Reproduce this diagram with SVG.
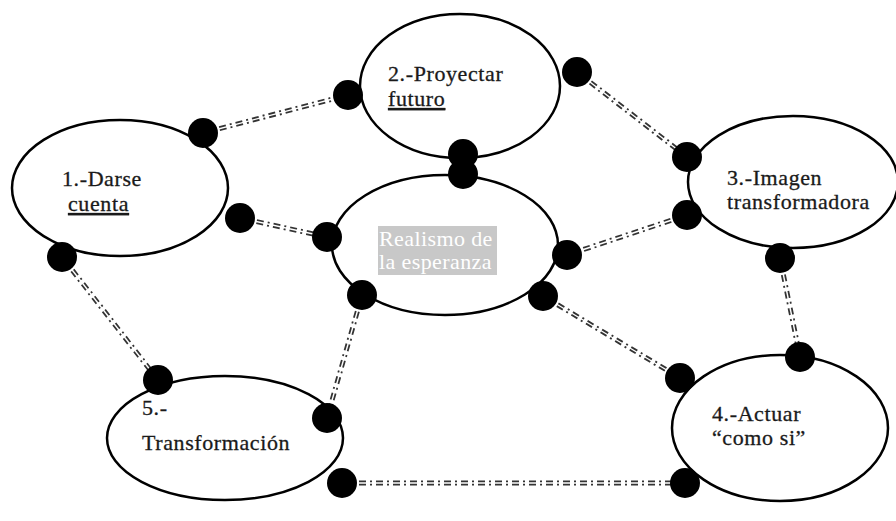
<svg xmlns="http://www.w3.org/2000/svg" width="896" height="521" viewBox="0 0 896 521">
<style>
.node{fill:#fff;stroke:#000;stroke-width:2.5}
.dot{fill:#000}
.c1{stroke:#333;stroke-width:5;stroke-dasharray:7 4 2 4;fill:none}
.c2{stroke:#fff;stroke-width:1.4;fill:none}
.t{font-family:'Liberation Serif','DejaVu Serif','Times New Roman',serif;font-size:22px;letter-spacing:0.6px;fill:#1a1a1a;stroke:#1a1a1a;stroke-width:0.3}
.w{font-family:'Liberation Serif','DejaVu Serif','Times New Roman',serif;font-size:22px;letter-spacing:0.4px;fill:#fff}
</style>
<rect width="896" height="521" fill="#fff"/>
<g id="connectors">
<g class="c1">
<line x1="203" y1="133" x2="348" y2="95"/>
<line x1="240" y1="218" x2="327" y2="237"/>
<line x1="577" y1="72" x2="687" y2="157"/>
<line x1="687" y1="215" x2="567" y2="255"/>
<line x1="780" y1="258" x2="800" y2="357"/>
<line x1="543" y1="296" x2="680" y2="378"/>
<line x1="362" y1="295" x2="327" y2="418"/>
<line x1="62" y1="257" x2="158" y2="380"/>
<line x1="342" y1="483" x2="685" y2="483"/>
</g>
<g class="c2">
<line x1="203" y1="133" x2="348" y2="95"/>
<line x1="240" y1="218" x2="327" y2="237"/>
<line x1="577" y1="72" x2="687" y2="157"/>
<line x1="687" y1="215" x2="567" y2="255"/>
<line x1="780" y1="258" x2="800" y2="357"/>
<line x1="543" y1="296" x2="680" y2="378"/>
<line x1="362" y1="295" x2="327" y2="418"/>
<line x1="62" y1="257" x2="158" y2="380"/>
<line x1="342" y1="483" x2="685" y2="483"/>
</g>
</g>
<g id="n1"><ellipse class="node" cx="120" cy="188" rx="108" ry="68"/>
<text class="t" x="62" y="186">1.-Darse</text><text class="t" x="68" y="211" text-decoration="underline">cuenta</text></g>
<g id="n2"><ellipse class="node" cx="460" cy="86" rx="100" ry="72"/>
<text class="t" x="388" y="81">2.-Proyectar</text><text class="t" x="388" y="106" text-decoration="underline">futuro</text></g>
<g id="n3"><ellipse class="node" cx="793" cy="182" rx="105" ry="66"/>
<text class="t" x="727" y="185">3.-Imagen</text><text class="t" x="727" y="209">transformadora</text></g>
<g id="n0"><ellipse class="node" cx="445" cy="245" rx="113" ry="70"/>
<rect x="378" y="226" width="119" height="49" fill="#c8c8c8"/>
<text class="w" x="379" y="246">Realismo de</text><text class="w" x="379" y="269">la esperanza</text></g>
<g id="n4"><ellipse class="node" cx="780" cy="428" rx="108" ry="73"/>
<text class="t" x="712" y="421">4.-Actuar</text><text class="t" x="712" y="445">“como si”</text></g>
<g id="n5"><ellipse class="node" cx="225" cy="438" rx="118" ry="62"/>
<text class="t" x="142" y="415">5.-</text><text class="t" x="142" y="450">Transformación</text></g>
<g id="dots">
<circle class="dot" cx="203" cy="133" r="15"/><circle class="dot" cx="348" cy="95" r="15"/>
<circle class="dot" cx="240" cy="218" r="15"/><circle class="dot" cx="327" cy="237" r="15"/>
<circle class="dot" cx="577" cy="72" r="15"/><circle class="dot" cx="687" cy="157" r="15"/>
<circle class="dot" cx="463" cy="154" r="15"/><circle class="dot" cx="463" cy="174" r="15"/>
<circle class="dot" cx="687" cy="215" r="15"/><circle class="dot" cx="567" cy="255" r="15"/>
<circle class="dot" cx="780" cy="258" r="15"/><circle class="dot" cx="800" cy="357" r="15"/>
<circle class="dot" cx="543" cy="296" r="15"/><circle class="dot" cx="680" cy="378" r="15"/>
<circle class="dot" cx="362" cy="295" r="15"/><circle class="dot" cx="327" cy="418" r="15"/>
<circle class="dot" cx="62" cy="257" r="15"/><circle class="dot" cx="158" cy="380" r="15"/>
<circle class="dot" cx="342" cy="483" r="15"/><circle class="dot" cx="685" cy="483" r="15"/>
</g>
</svg>
